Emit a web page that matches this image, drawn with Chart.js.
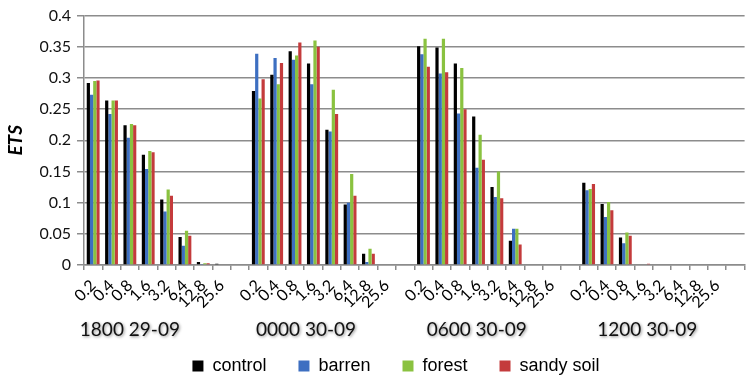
<!DOCTYPE html>
<html>
<head>
<meta charset="utf-8">
<script src="https://cdn.jsdelivr.net/npm/chart.js@4"></script>
<style>
  html, body { margin: 0; padding: 0; background: #fff; overflow: hidden; }
  #wrap { position: relative; width: 755px; height: 379px; }
</style>
</head>
<body>
<div id="wrap"><canvas id="grafico"></canvas></div>
<script>
// datos
const grupos = ['1800 29-09', '0000 30-09', '0600 30-09', '1200 30-09'];
const tamanos = ['0.2', '0.4', '0.8', '1.6', '3.2', '6.4', '12.8', '25.6'];
const yTicks = [0, 0.05, 0.1, 0.15, 0.2, 0.25, 0.3, 0.35, 0.4];

// una fila por grupo
const control = [
    [0.292, 0.264, 0.224, 0.177, 0.105, 0.045, 0.005, 0.002],
    [0.279, 0.305, 0.343, 0.323, 0.217, 0.097, 0.018, 0],
    [0.351, 0.349, 0.323, 0.238, 0.125, 0.039, 0, 0],
    [0.132, 0.098, 0.044, 0, 0, 0, 0, 0]
];
const barren = [
    [0.273, 0.242, 0.204, 0.154, 0.086, 0.031, 0.001, 0],
    [0.339, 0.332, 0.329, 0.290, 0.214, 0.100, 0.005, 0],
    [0.338, 0.307, 0.243, 0.156, 0.109, 0.058, 0, 0],
    [0.120, 0.077, 0.035, 0, 0, 0, 0, 0]
];
const forest = [
    [0.295, 0.264, 0.226, 0.183, 0.121, 0.055, 0.003, 0],
    [0.267, 0.290, 0.336, 0.360, 0.281, 0.146, 0.026, 0],
    [0.363, 0.363, 0.316, 0.209, 0.150, 0.058, 0, 0],
    [0.122, 0.101, 0.052, 0, 0, 0, 0, 0]
];
const sandy = [
    [0.296, 0.264, 0.224, 0.181, 0.111, 0.047, 0.003, 0],
    [0.298, 0.324, 0.357, 0.350, 0.242, 0.111, 0.018, 0],
    [0.318, 0.309, 0.250, 0.169, 0.107, 0.033, 0, 0],
    [0.130, 0.088, 0.047, 0.002, 0, 0, 0, 0]
];

// donde va el rotulo de cada grupo (indice de categoria)
const posRotulo = [2.0, 11.6, 20.9, 30.2];

// categorias: 8 tamanos + un hueco por grupo
let etiquetas = [];
grupos.forEach(() => {
    etiquetas = etiquetas.concat(tamanos, ['']);
});

function aplanar(serie) {
    let res = [];
    serie.forEach(fila => {
        res = res.concat(fila, [null]);
    });
    return res;
}

// rotulos de grupo debajo del eje
const rotulosGrupo = {
    id: 'rotulosGrupo',
    afterDraw(chart) {
        const x = chart.scales.x;
        const ctx = chart.ctx;
        const x0 = x.getPixelForValue(0);
        const paso = x.getPixelForValue(1) - x0;
        ctx.save();
        ctx.font = '19px Lato';
        ctx.fillStyle = '#111';
        ctx.textAlign = 'center';
        ctx.textBaseline = 'middle';
        ctx.shadowColor = 'rgba(0,0,0,0.45)';
        ctx.shadowBlur = 3;
        ctx.shadowOffsetX = 1;
        ctx.shadowOffsetY = 1;
        grupos.forEach((g, i) => {
            ctx.fillText(g, x0 + posRotulo[i] * paso, 330);
        });
        ctx.restore();
    }
};

window.onload = function(){

    const ctx = document.getElementById('grafico');

    new Chart(ctx, {
        type: 'bar',
        data: {
            labels: etiquetas,
            datasets: [
                { label: 'control', data: aplanar(control), backgroundColor: '#000000' },
                { label: 'barren', data: aplanar(barren), backgroundColor: '#3d6fc1' },
                { label: 'forest', data: aplanar(forest), backgroundColor: '#8ac240' },
                { label: 'sandy soil', data: aplanar(sandy), backgroundColor: '#c43b3c' }
            ]
        },
        options: {
            responsive: true,
            maintainAspectRatio: false,
            animation: false,
            devicePixelRatio: 1,
            datasets: {
                bar: { categoryPercentage: 0.7, barPercentage: 1.0, borderWidth: 0 }
            },
            layout: {
                padding: { left: 30, right: -7, top: 10, bottom: -6 }
            },
            plugins: {
                tooltip: { enabled: false },
                legend: {
                    position: 'bottom',
                    labels: {
                        boxWidth: 11,
                        boxHeight: 11,
                        padding: 32,
                        color: '#000',
                        font: { family: 'Liberation Sans', size: 18 }
                    }
                }
            },
            scales: {
                x: {
                    offset: true,
                    afterFit: s => { s.height = 60; },
                    grid: {
                        offset: true,
                        drawOnChartArea: false,
                        tickLength: 5,
                        color: '#8c8c8c',
                        lineWidth: 1.5
                    },
                    border: { color: '#8c8c8c', width: 1.5 },
                    ticks: {
                        autoSkip: false,
                        minRotation: 45,
                        maxRotation: 45,
                        padding: 6,
                        color: '#000',
                        font: { family: 'Lato', size: 16 }
                    }
                },
                y: {
                    min: 0,
                    max: 0.4,
                    afterFit: s => { s.width = 54; },
                    afterBuildTicks: s => { s.ticks = yTicks.map(v => ({ value: v })); },
                    grid: {
                        color: '#8c8c8c',
                        lineWidth: 1.5,
                        tickLength: 7
                    },
                    border: { color: '#8c8c8c', width: 1.5 },
                    ticks: {
                        padding: 6,
                        color: '#111',
                        font: { family: 'Lato', size: 16 },
                        callback: v => String(+v.toFixed(2))
                    },
                    title: {
                        display: true,
                        text: 'ETS',
                        color: '#000',
                        padding: { top: -26 },
                        font: { family: 'Lato', size: 19, weight: 'bold', style: 'italic' }
                    }
                }
            }
        },
        plugins: [rotulosGrupo]
    });

}
</script>
</body>
</html>
